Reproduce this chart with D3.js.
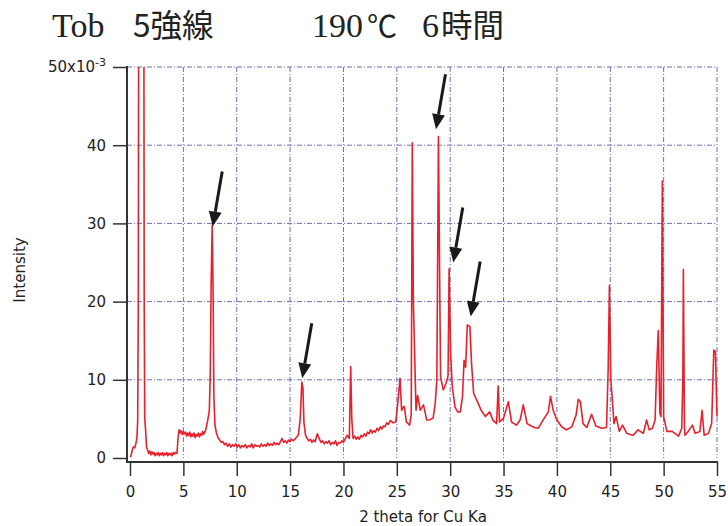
<!DOCTYPE html>
<html>
<head>
<meta charset="utf-8">
<script src="https://cdn.jsdelivr.net/npm/d3@7"></script>
<style>
  body { margin: 0; background: #fff; }
  text { font-family: "DejaVu Sans", sans-serif; fill: #222; }
</style>
</head>
<body>
<script>
// XRD pattern, intensity in units of 1e-3
var twoTheta = [
  0.05,0.2,0.3,0.45,0.56,0.65,0.72,0.78,0.82,1.05,1.29,1.33,1.38,1.45,1.55,
  1.65,1.75,1.85,1.95,2.05,2.15,2.25,2.35,2.45,2.55,2.65,2.75,2.85,2.95,3.05,3.15,3.25,3.35,3.45,3.55,3.65,3.75,3.85,3.95,4.05,4.15,4.25,4.4,
  4.5,4.6,4.7,4.8,4.9,5.0,5.1,5.2,5.3,5.4,5.5,5.6,5.7,5.8,5.9,6.0,6.1,6.2,6.3,6.4,6.5,6.6,6.7,6.8,6.9,7.0,7.1,
  7.28,7.43,7.52,7.6,7.7,7.78,7.86,7.96,8.1,8.25,
  8.4,8.55,8.7,8.85,9.0,9.15,9.3,9.45,9.6,9.75,9.9,10.05,10.2,10.35,10.5,10.65,10.8,10.95,11.1,11.25,11.4,11.55,11.7,11.85,
  12.0,12.15,12.3,12.45,12.6,12.75,12.9,13.05,13.2,13.35,13.5,13.65,13.8,13.95,14.1,14.25,14.4,14.55,14.7,14.85,15.0,15.15,15.3,15.5,
  15.77,15.95,16.1,16.2,16.3,16.45,16.6,16.75,16.9,17.05,17.2,17.35,17.55,17.75,17.9,18.05,18.2,18.35,18.5,18.65,18.8,18.95,
  19.1,19.25,19.4,19.55,19.7,19.85,20.0,20.15,20.35,20.55,20.68,20.78,20.9,21.05,21.2,21.35,21.5,21.65,21.8,21.95,
  22.1,22.25,22.4,22.55,22.7,22.85,23.0,23.15,23.3,23.45,23.6,23.75,23.9,24.05,24.2,24.4,
  24.65,24.9,25.1,25.3,25.45,25.6,25.7,25.9,26.2,26.35,26.45,26.55,26.8,26.95,27.2,27.5,27.8,28.1,28.4,28.6,28.75,28.9,29.0,29.1,
  29.35,29.6,29.8,29.9,30.05,30.2,30.45,30.7,30.95,31.15,31.3,31.45,31.6,31.85,32.0,32.2,32.55,32.9,33.3,33.7,34.0,34.35,34.5,34.62,
  35.0,35.45,35.75,36.2,36.55,36.85,37.2,37.6,37.9,38.25,38.7,39.2,39.4,39.65,40.0,40.45,40.9,41.4,41.8,42.0,42.2,42.45,42.8,43.25,
  43.65,44.2,44.65,44.8,44.92,45.05,45.15,45.35,45.55,45.85,46.15,46.55,46.85,47.15,47.6,48.1,48.4,48.65,48.95,49.2,49.35,49.5,
  49.65,49.75,49.88,50.0,50.3,50.8,51.4,51.7,51.8,51.85,51.95,52.0,52.3,52.7,52.95,53.4,53.6,53.8,54.2,54.5,54.7,54.85,55.0];
var intensity = [
  0.1,0.9,1.4,1.3,1.9,2.6,4.8,20,70,95,70,20,5.0,3.8,1.4,
  1.0,0.6,0.9,0.4,0.8,0.5,0.7,0.3,0.6,0.4,0.7,0.3,0.6,0.4,0.7,0.3,0.6,0.4,0.7,0.3,0.6,0.4,0.6,0.3,0.7,0.5,0.7,0.6,
  2.5,3.6,3.2,3.5,3.0,3.4,3.1,3.3,2.8,3.2,2.9,3.3,2.7,3.1,2.8,3.2,2.6,3.0,2.8,3.2,2.7,3.1,2.9,3.4,3.0,3.3,3.6,
  4.8,6.0,10.5,22,29.8,22,8.0,4.2,3.2,2.6,
  2.3,2.0,2.1,1.7,1.9,1.5,1.8,1.4,1.7,1.5,1.8,1.4,1.7,1.3,1.6,1.4,1.7,1.3,1.6,1.4,1.8,1.3,1.7,1.5,
  1.6,1.4,1.8,1.5,1.7,1.5,1.9,1.6,1.8,1.6,2.0,1.7,1.9,1.7,2.1,2.5,2.0,2.2,1.9,2.3,2.1,2.4,2.2,2.5,
  2.9,5.0,9.7,9.0,4.5,2.9,2.5,2.2,2.4,2.0,2.3,2.1,3.1,2.4,2.0,2.2,1.8,2.1,1.9,2.2,1.7,2.0,
  1.8,2.2,1.6,2.0,1.9,2.2,2.0,2.4,2.9,2.5,11.7,5.0,2.5,2.8,2.4,2.7,2.4,2.9,2.7,3.1,
  2.8,3.3,3.1,3.6,3.2,3.5,3.3,3.8,3.5,4.0,3.7,4.1,4.0,4.5,4.3,4.8,
  4.5,4.6,7.2,10.2,6.1,6.5,6.6,4.6,4.2,5.5,40.3,20,6.1,8.0,6.1,6.8,4.85,4.9,5.1,7.0,10,41.1,25,10.4,
  8.7,9.5,10.5,24.2,13,9.1,6.5,5.9,5.9,7.8,12.5,11.6,17.0,16.8,12.1,8.25,7.2,6.1,5.3,5.9,4.85,4.4,9.2,4.6,
  5.1,7.2,4.6,4.2,4.85,6.8,4.4,4.1,3.9,3.8,4.85,5.9,7.9,6.1,4.85,4.0,3.6,4.0,5.5,7.5,7.2,4.4,3.9,5.6,
  4.1,3.8,3.9,11.2,22.1,10,8.25,4.4,5.3,3.4,4.2,3.15,3.0,2.9,3.6,3.15,4.85,3.6,3.8,4.85,11.6,16.3,
  5.7,5.3,35.4,5.3,3.4,3.4,2.8,3.8,10,24.1,4.0,2.9,3.4,4.2,3.15,3.4,6.1,2.9,3.15,4.4,13.8,13.6,5.3];

var xTicks = [0,5,10,15,20,25,30,35,40,45,50,55];
var yTicks = [0,10,20,30,40,50];
var yTickLabels = ["0","10","20","30","40","50x10"];

// arrow tips (2 theta, intensity)
var arrowX = [7.75, 16.14, 28.67, 30.29, 31.92];
var arrowY = [29.6, 10.2, 42.05, 25.0, 18.1];

var width = 728,
    height = 526;

var svg = d3.select("body").append("svg")
    .attr("width", width)
    .attr("height", height);

var x = d3.scaleLinear().domain([0, 55]).range([130, 717]);
var y = d3.scaleLinear().domain([0, 50]).range([458, 67]);

var gridColor = "#6d6db8";

// grid
svg.append("g").selectAll("line.h")
    .data(yTicks.slice(1))
  .enter().append("line")
    .attr("x1", 127).attr("x2", x(55))
    .attr("y1", function(d){ return y(d); })
    .attr("y2", function(d){ return y(d); })
    .attr("stroke", gridColor)
    .attr("stroke-width", 1)
    .attr("stroke-dasharray", "5,2,1,2");

svg.append("g").selectAll("line.v")
    .data(xTicks.slice(1))
  .enter().append("line")
    .attr("x1", function(d){ return x(d); })
    .attr("x2", function(d){ return x(d); })
    .attr("y1", y(50)).attr("y2", y(0))
    .attr("stroke", gridColor)
    .attr("stroke-width", 1)
    .attr("stroke-dasharray", "5,2,1,2");

// data line
svg.append("clipPath").attr("id", "clip")
  .append("rect")
    .attr("x", 127).attr("y", y(50))
    .attr("width", x(55) - 127 + 2).attr("height", y(0) - y(50) + 3);

var line = d3.line()
    .x(function(d, i){ return x(twoTheta[i]); })
    .y(function(d){ return y(d); });

svg.append("path")
    .datum(intensity)
    .attr("clip-path", "url(#clip)")
    .attr("fill", "none")
    .attr("stroke", "#ea1f2a")
    .attr("stroke-width", 1.6)
    .attr("stroke-linejoin", "round")
    .attr("d", line);

// axes
var xAxis = svg.append("g")
    .attr("transform", "translate(0,462)")
    .call(d3.axisBottom(x).tickValues(xTicks).tickSize(14).tickPadding(10));
xAxis.select(".domain").remove();
xAxis.append("line")
    .attr("x1", 127).attr("x2", x(55) + 1)
    .attr("stroke", "#333").attr("stroke-width", 2);

var yAxis = svg.append("g")
    .attr("transform", "translate(127,0)")
    .call(d3.axisLeft(y).tickValues(yTicks).tickSize(14).tickPadding(7)
      .tickFormat(function(d, i){ return yTickLabels[i]; }));
yAxis.select(".domain").remove();
yAxis.append("line")
    .attr("y1", y(50) - 1).attr("y2", 463)
    .attr("stroke", "#333").attr("stroke-width", 2);

svg.selectAll(".tick line").attr("stroke", "#333").attr("stroke-width", 1.5);
svg.selectAll(".tick text")
    .attr("font-family", "DejaVu Sans, sans-serif")
    .attr("font-size", 15)
    .attr("fill", "#222");

// exponent on top label
yAxis.selectAll(".tick text")
  .filter(function(d){ return d === 50; })
  .append("tspan")
    .attr("dy", "-0.55em")
    .attr("font-size", 11)
    .text("-3");

// axis titles
svg.append("text")
    .attr("x", 423).attr("y", 522)
    .attr("text-anchor", "middle")
    .attr("font-size", 15)
    .text("2 theta for Cu Ka");

svg.append("text")
    .attr("transform", "translate(25,270) rotate(-90)")
    .attr("text-anchor", "middle")
    .attr("font-size", 15)
    .text("Intensity");

// title
var title = svg.append("text").attr("y", 37).attr("font-size", 34);
title.append("tspan").attr("x", 52)
    .style("font-family", "'Liberation Serif', serif").text("Tob");
title.append("tspan").attr("x", 133)
    .style("font-family", "'Noto Sans CJK JP', sans-serif").attr("font-size", 31.5).text("5強線");
title.append("tspan").attr("x", 312)
    .style("font-family", "'Liberation Serif', serif").text("190");
title.append("tspan").attr("x", 367)
    .style("font-family", "'Noto Sans CJK JP', sans-serif").attr("font-size", 30).text("℃");
title.append("tspan").attr("x", 422)
    .style("font-family", "'Liberation Serif', serif").text("6");
title.append("tspan").attr("x", 441)
    .style("font-family", "'Noto Sans CJK JP', sans-serif").attr("font-size", 31.5).text("時間");

// arrows
var arrows = svg.append("g");
arrowX.forEach(function(ax, i) {
  var tx = x(ax), ty = y(arrowY[i]);
  var dx = 9.5, dy = -55;
  var len = Math.sqrt(dx*dx + dy*dy);
  var ux = dx / len, uy = dy / len;
  var headL = 15, headW = 6.5;
  var bx = tx + ux*headL, by = ty + uy*headL;
  arrows.append("line")
      .attr("x1", bx).attr("y1", by)
      .attr("x2", tx + dx).attr("y2", ty + dy)
      .attr("stroke", "#1a1a1a").attr("stroke-width", 3);
  arrows.append("path")
      .attr("d", "M" + tx + "," + ty +
        "L" + (bx - uy*headW) + "," + (by + ux*headW) +
        "L" + (bx + uy*headW) + "," + (by - ux*headW) + "Z")
      .attr("fill", "#1a1a1a");
});
</script>
</body>
</html>
